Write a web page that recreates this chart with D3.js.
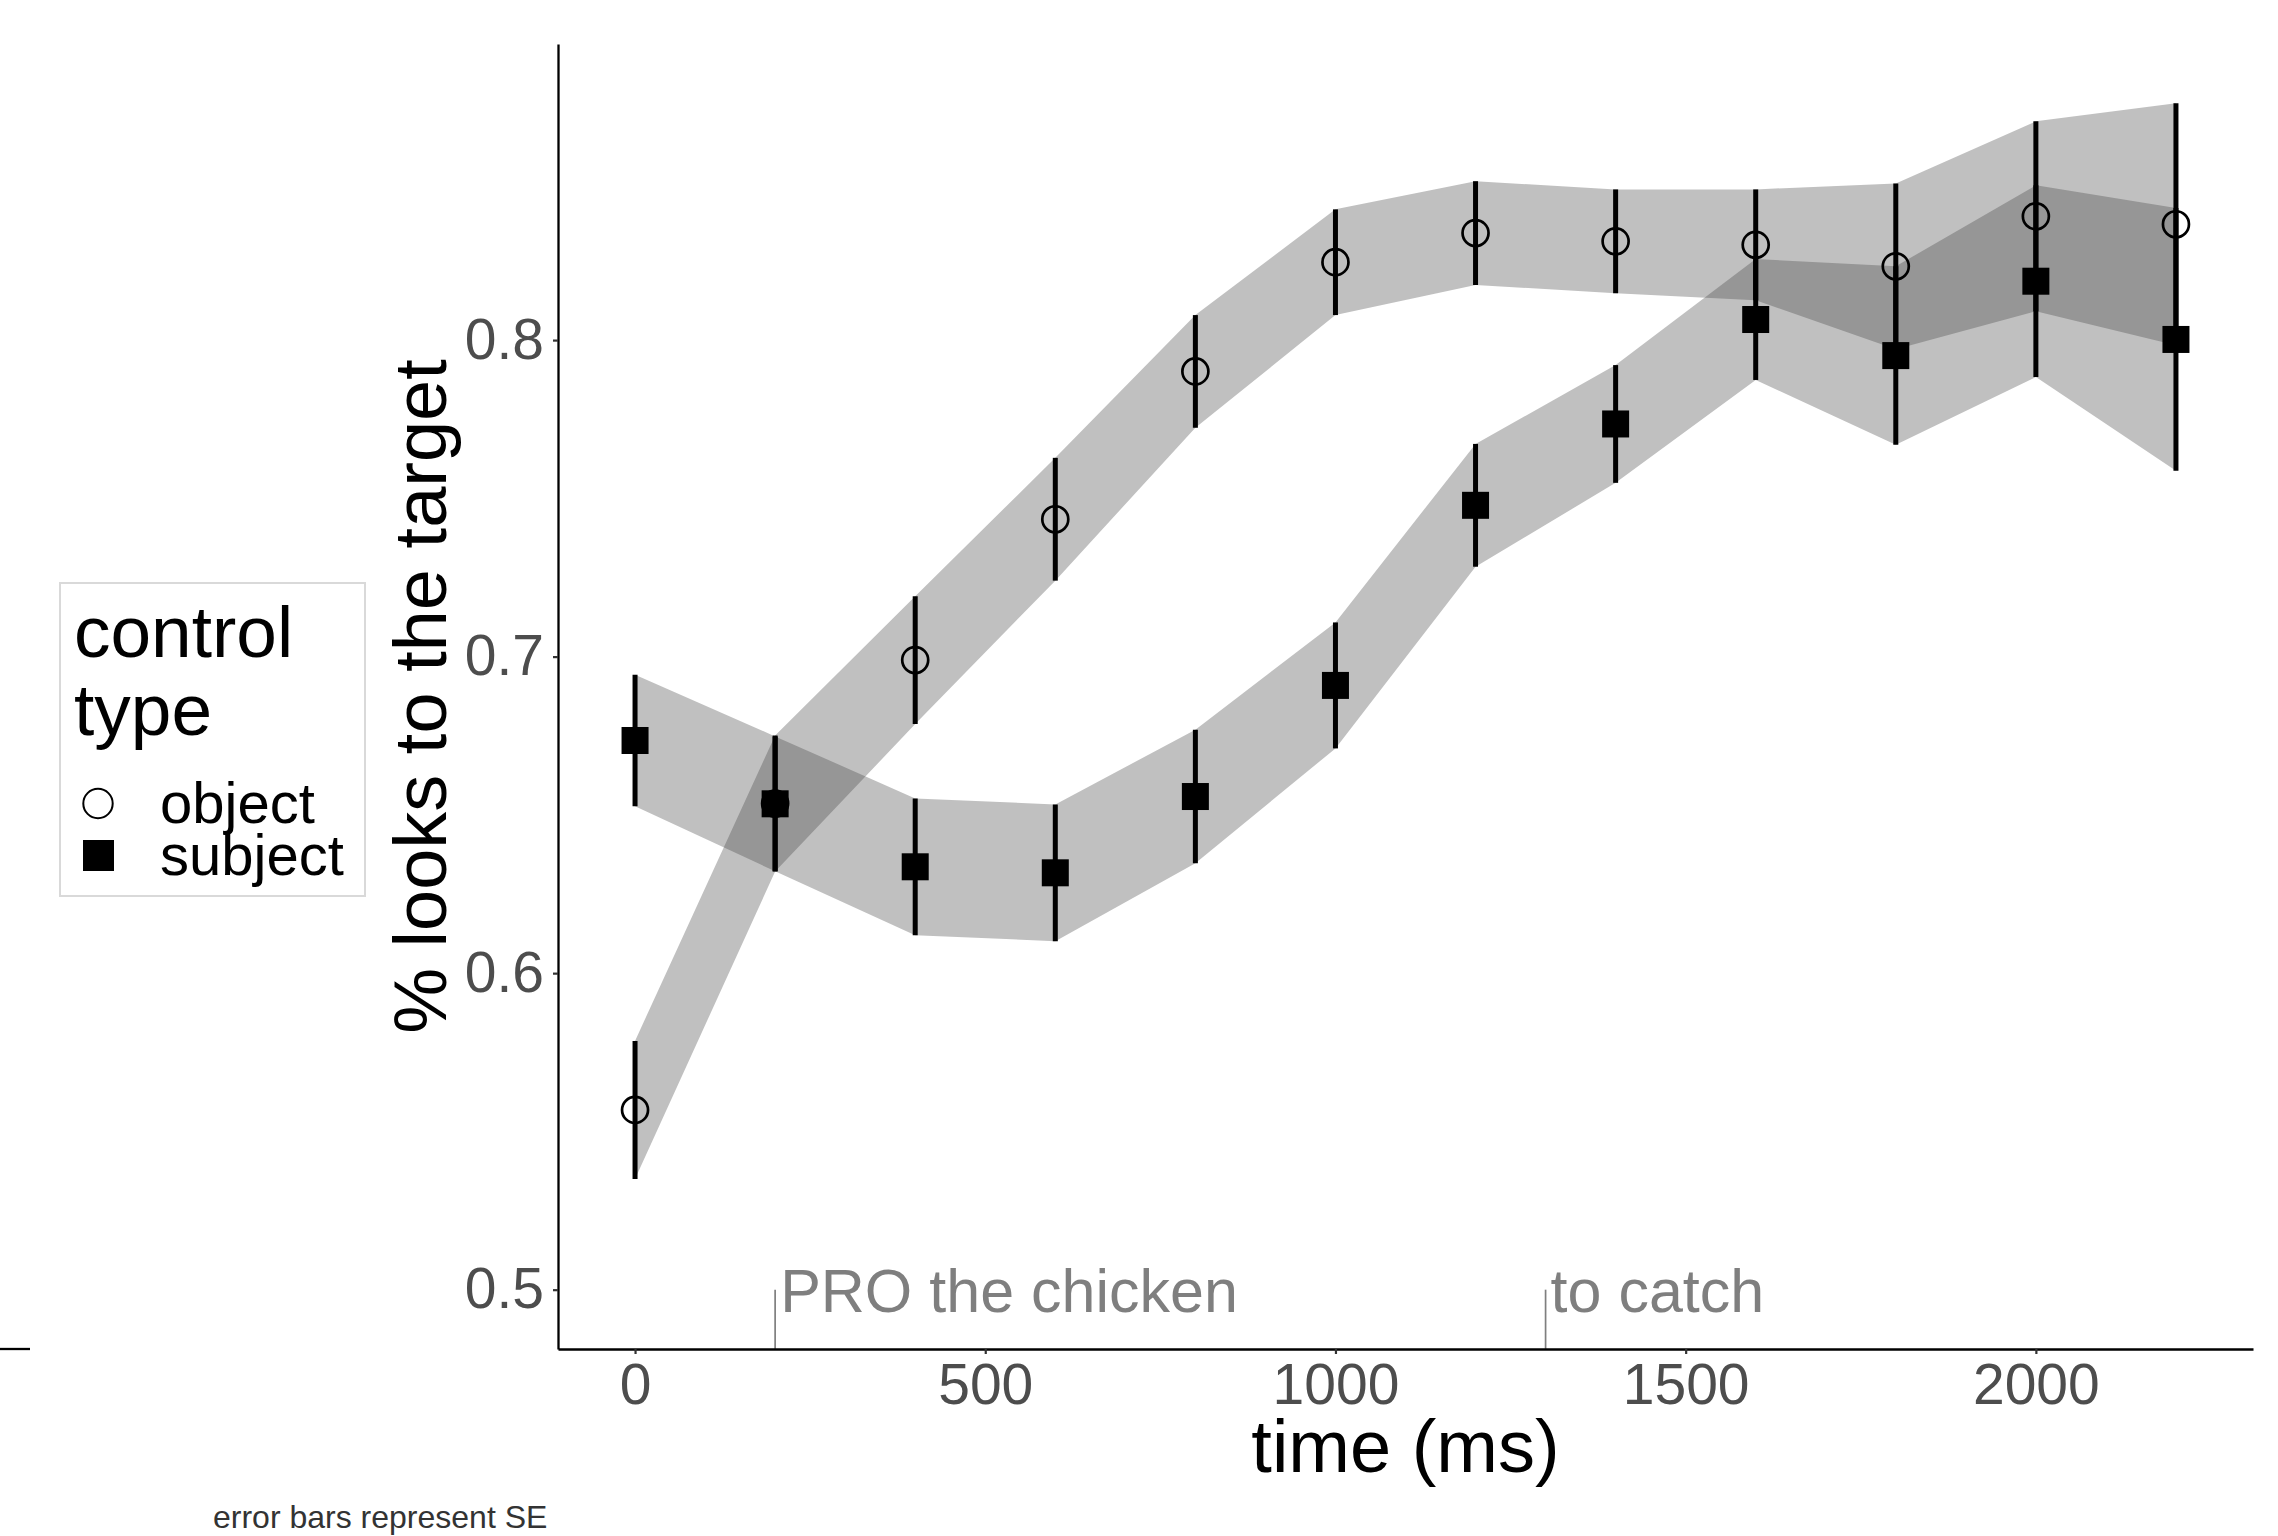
<!DOCTYPE html>
<html>
<head>
<meta charset="utf-8">
<script src="https://cdn.jsdelivr.net/npm/d3@7"></script>
<style>
  body { margin: 0; background: #fff; }
  text { font-family: "Liberation Sans", Arial, sans-serif; }
</style>
</head>
<body>
<div id="chart_div"></div>
<script>
// data
const times = [0, 200, 400, 600, 800, 1000, 1200, 1400, 1600, 1800, 2000, 2200];
const objectMean = [0.5568, 0.6536, 0.6989, 0.7434, 0.7901, 0.8246, 0.8338, 0.8312, 0.8301, 0.8233, 0.8391, 0.8366];
const objectSE = [0.0218, 0.0215, 0.0202, 0.0194, 0.0178, 0.0167, 0.0164, 0.0164, 0.0175, 0.0262, 0.0300, 0.0382];
const subjectMean = [0.6735, 0.6535, 0.6336, 0.6317, 0.6558, 0.6909, 0.7478, 0.7735, 0.8065, 0.7951, 0.8186, 0.8002];
const subjectSE = [0.0208, 0.0213, 0.0216, 0.0216, 0.0211, 0.0199, 0.0194, 0.0186, 0.0191, 0.0282, 0.0303, 0.0415];
const xTicks = [0, 500, 1000, 1500, 2000];
const yTicks = [0.5, 0.6, 0.7, 0.8];
const annotationLabels = ["PRO the chicken", "to catch"];
const annotationTimes = [200, 1300];
const annotationLevel = 0.5;
const groupNames = ["object", "subject"];

// set the dimensions and margins of the graph
const W = 2278, H = 1536;
const margin = {top: 44, right: 25, bottom: 187, left: 558};
const plotW = W - margin.left - margin.right,
      plotH = H - margin.top - margin.bottom;

const svg = d3.select("#chart_div")
  .append("svg")
    .attr("width", W)
    .attr("height", H)
    .style("background", "#fff");

const g = svg.append("g")
    .attr("transform", `translate(${margin.left}, ${margin.top})`);

const groups = [
  {key: "object", mean: objectMean, se: objectSE},
  {key: "subject", mean: subjectMean, se: subjectSE}
].map(grp => ({
  key: grp.key,
  values: times.map((t, i) => ({t: t, m: grp.mean[i], lo: grp.mean[i] - grp.se[i], hi: grp.mean[i] + grp.se[i]}))
}));

// scales with ggplot style 5% expansion
const xMin = d3.min(times), xMax = d3.max(times);
const xPad = (xMax - xMin) * 0.05;
const x = d3.scaleLinear()
  .domain([xMin - xPad, xMax + xPad])
  .range([0, plotW]);

const allLo = d3.min(groups, grp => d3.min(grp.values, d => d.lo));
const allHi = d3.max(groups, grp => d3.max(grp.values, d => d.hi));
const yLow = Math.min(allLo, annotationLevel);
const yPad = (allHi - yLow) * 0.05;
const y = d3.scaleLinear()
  .domain([yLow - yPad, allHi + yPad])
  .range([plotH, 0]);

// ribbons
const area = d3.area()
  .x(d => x(d.t))
  .y0(d => y(d.lo))
  .y1(d => y(d.hi));

g.selectAll(".ribbon")
  .data(groups)
  .join("path")
    .attr("class", "ribbon")
    .attr("d", d => area(d.values))
    .style("fill", "rgb(66,66,66)")
    .style("fill-opacity", 0.333);

// error bars
groups.forEach(grp => {
  g.selectAll(".err-" + grp.key)
    .data(grp.values)
    .join("line")
      .attr("class", "err-" + grp.key)
      .attr("x1", d => x(d.t))
      .attr("x2", d => x(d.t))
      .attr("y1", d => y(d.lo))
      .attr("y2", d => y(d.hi))
      .style("stroke", "#000")
      .style("stroke-width", 5);
});

// points
g.selectAll(".pt-object")
  .data(groups[0].values)
  .join("circle")
    .attr("class", "pt-object")
    .attr("cx", d => x(d.t))
    .attr("cy", d => y(d.m))
    .attr("r", 13)
    .style("fill", "none")
    .style("stroke", "#000")
    .style("stroke-width", 2.7);

const sq = 27;
g.selectAll(".pt-subject")
  .data(groups[1].values)
  .join("rect")
    .attr("class", "pt-subject")
    .attr("x", d => x(d.t) - sq / 2)
    .attr("y", d => y(d.m) - sq / 2)
    .attr("width", sq)
    .attr("height", sq)
    .style("fill", "#000");

// annotation segments and words
g.selectAll(".ann-line")
  .data(annotationTimes)
  .join("line")
    .attr("class", "ann-line")
    .attr("x1", d => x(d))
    .attr("x2", d => x(d))
    .attr("y1", plotH)
    .attr("y2", y(annotationLevel))
    .style("stroke", "#7f7f7f")
    .style("stroke-width", 1.7);

g.selectAll(".ann-text")
  .data(annotationTimes)
  .join("text")
    .attr("class", "ann-text")
    .attr("x", d => x(d) + 5)
    .attr("y", y(annotationLevel))
    .attr("dy", "0.36em")
    .style("font-size", "61px")
    .style("fill", "#7f7f7f")
    .text((d, i) => annotationLabels[i]);

// axes
const xAxis = g.append("g")
  .attr("transform", `translate(0, ${plotH})`)
  .call(d3.axisBottom(x).tickValues(xTicks).tickSize(5).tickSizeOuter(0).tickPadding(10).tickFormat(d3.format("d")));
const yAxis = g.append("g")
  .call(d3.axisLeft(y).tickValues(yTicks).tickSize(5).tickSizeOuter(0).tickPadding(9).tickFormat(d3.format(".1f")));

[xAxis, yAxis].forEach(ax => {
  ax.select(".domain").style("stroke", "#000").style("stroke-width", 2.3);
  ax.selectAll(".tick line").style("stroke", "#333").style("stroke-width", 2.2);
  ax.selectAll(".tick text")
    .style("font-size", "57px")
    .style("font-family", "'Liberation Sans', Arial, sans-serif")
    .style("fill", "#4d4d4d");
});

// axis titles
svg.append("text")
  .attr("x", margin.left + plotW / 2)
  .attr("y", 1472)
  .attr("text-anchor", "middle")
  .style("font-size", "74px")
  .style("fill", "#000")
  .text("time (ms)");

svg.append("text")
  .attr("transform", `translate(446, ${margin.top + plotH / 2}) rotate(-90)`)
  .attr("text-anchor", "middle")
  .style("font-size", "74px")
  .style("fill", "#000")
  .text("% looks to the target");

// legend
const legend = svg.append("g");
legend.append("rect")
  .attr("x", 60).attr("y", 583)
  .attr("width", 305).attr("height", 313)
  .style("fill", "#fff")
  .style("stroke", "#d9d9d9")
  .style("stroke-width", 2);
legend.append("text").attr("x", 74).attr("y", 657).style("font-size", "73px").text("control");
legend.append("text").attr("x", 74).attr("y", 735).style("font-size", "73px").text("type");
legend.append("circle")
  .attr("cx", 98).attr("cy", 803.5).attr("r", 14.7)
  .style("fill", "none").style("stroke", "#000").style("stroke-width", 2);
legend.append("rect")
  .attr("x", 83).attr("y", 840).attr("width", 31).attr("height", 31)
  .style("fill", "#000");
legend.selectAll(".leg-label")
  .data(groupNames)
  .join("text")
    .attr("class", "leg-label")
    .attr("x", 160)
    .attr("y", (d, i) => 823 + i * 52)
    .style("font-size", "58px")
    .text(d => d);

// stray axis stub at the far left
svg.append("line")
  .attr("x1", 0).attr("x2", 30)
  .attr("y1", margin.top + plotH).attr("y2", margin.top + plotH)
  .style("stroke", "#000").style("stroke-width", 2.3);

// caption
svg.append("text")
  .attr("x", 213)
  .attr("y", 1528)
  .style("font-size", "32px")
  .style("fill", "#333")
  .text("error bars represent SE");
</script>
</body>
</html>
